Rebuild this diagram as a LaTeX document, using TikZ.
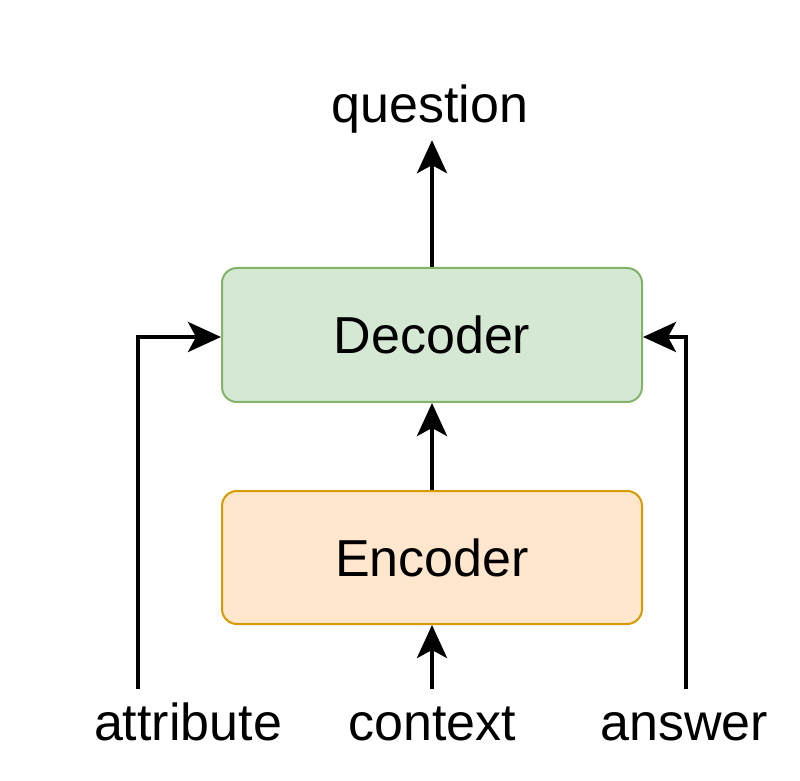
\documentclass[tikz,border=0pt]{standalone}
\usepackage{fontspec}
\setmainfont{Liberation Sans}
\usepackage{xcolor}
\usetikzlibrary{positioning,arrows.meta}
\definecolor{decfill}{HTML}{D5E8D4}
\definecolor{decline}{HTML}{82B366}
\definecolor{encfill}{HTML}{FFE6CC}
\definecolor{encline}{HTML}{D79B00}

\begin{document}
\begin{tikzpicture}[x=1pt, y=1pt, font=\fontsize{52}{60}\selectfont,
    arr/.style={line width=4pt, -{Stealth[length=33pt, width=30pt, inset=8pt]}},
    lbl/.style={text height=38pt, text depth=11pt, inner xsep=0pt}]
    \useasboundingbox (0,0) rectangle (800,780);
                  % Nodes for boxes
                  \node [draw=decline, fill=decfill, line width=2pt, rounded corners=15pt, minimum width=420pt, minimum height=134pt] (decoder) at (432,445) {Decoder};
                  \node [draw=encline, fill=encfill, line width=2pt, rounded corners=15pt, minimum width=420pt, minimum height=133pt, below=87pt of decoder] (encoder) {Encoder};

                  % Nodes for labels
                  \node [lbl, anchor=base, inner ysep=6pt] (question) at (430,657) {question};
                  \node [lbl, anchor=base, inner ysep=13pt] (attribute) at (188,40) {attribute};
                  \node [lbl, anchor=base, inner ysep=13pt] (context) at (432,40) {context};
                  \node [lbl, anchor=base, inner ysep=13pt] (answer) at (684,40) {answer};

                  % Arrows
                  \draw [arr] (decoder.north) -- (question.south -| decoder.north);
                  \draw [arr] (encoder.north) -- (decoder.south);
                  \draw [arr] (context.north -| encoder.south) -- (encoder.south);
                  \draw [arr] ([xshift=-50pt]attribute.north) |- ([yshift=-2pt]decoder.west);
                  \draw [arr] ([xshift=2pt]answer.north) |- ([yshift=-2pt]decoder.east);
              \end{tikzpicture}
\end{document}
